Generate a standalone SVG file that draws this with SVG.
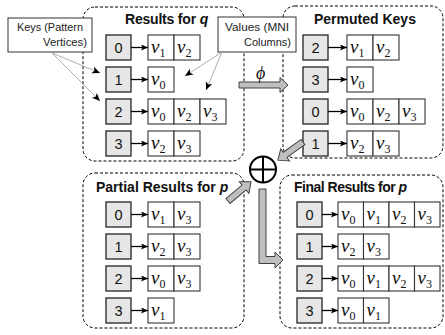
<svg xmlns="http://www.w3.org/2000/svg" width="445" height="335" viewBox="0 0 445 335">
<defs>
<marker id="ah" markerUnits="userSpaceOnUse" markerWidth="8" markerHeight="8" refX="7" refY="3" orient="auto"><path d="M0,0 L7,3 L0,6 L1.5,3 z" fill="#000"/></marker>
<marker id="ph" markerUnits="userSpaceOnUse" markerWidth="10" markerHeight="10" refX="8" refY="3.5" orient="auto"><path d="M0,0 L8,3.5 L0,7 L2,3.5 z" fill="#000"/></marker>
</defs>
<style>
.panel{fill:#fff;stroke:#000;stroke-width:1;stroke-dasharray:3,2}
.key{fill:#e6e6e6;stroke:#333;stroke-width:1.4}
.cell{fill:#fff;stroke:#333;stroke-width:1.1}
.kt{font-family:"Liberation Sans",Arial,sans-serif;font-size:14.5px;text-anchor:middle;fill:#111}
.vt{font-family:"Liberation Serif","DejaVu Serif",serif;font-style:italic;font-size:19px;fill:#111}
.sub{font-style:normal;font-size:12px}
.title{font-family:"Liberation Sans",Arial,sans-serif;font-weight:bold;font-size:14px;fill:#111}
.call{fill:#fff;stroke:#333;stroke-width:1}
.ct{font-family:"Liberation Sans",Arial,sans-serif;font-size:11px;fill:#222}
.kv{stroke:#000;stroke-width:1.3;fill:none;marker-end:url(#ah)}
.ptr{stroke:#999;stroke-width:0.8;fill:none;marker-end:url(#ph)}
.blk{fill:#bfbfbf;stroke:#404040;stroke-width:1}
</style>

<g id="panel-results-q">
<rect class="panel" x="83" y="7" width="161" height="154" rx="12"/>
<text class="title" x="125" y="24" letter-spacing="-0.2">Results for <tspan font-style="italic">q</tspan></text>
<rect class="key" x="106" y="35" width="25" height="25"/><text class="kt" x="118.5" y="53">0</text>
<rect class="cell" x="148" y="35" width="26" height="25"/><text class="vt" x="151" y="53">v<tspan class="sub" dy="4">1</tspan></text>
<rect class="cell" x="174" y="35" width="26" height="25"/><text class="vt" x="177" y="53">v<tspan class="sub" dy="4">2</tspan></text>
<rect class="key" x="106" y="67" width="25" height="25"/><text class="kt" x="118.5" y="85">1</text>
<rect class="cell" x="148" y="67" width="26" height="25"/><text class="vt" x="151" y="85">v<tspan class="sub" dy="4">0</tspan></text>
<rect class="key" x="106" y="99" width="25" height="25"/><text class="kt" x="118.5" y="117">2</text>
<rect class="cell" x="148" y="99" width="26" height="25"/><text class="vt" x="151" y="117">v<tspan class="sub" dy="4">0</tspan></text>
<rect class="cell" x="174" y="99" width="26" height="25"/><text class="vt" x="177" y="117">v<tspan class="sub" dy="4">2</tspan></text>
<rect class="cell" x="200" y="99" width="26" height="25"/><text class="vt" x="203" y="117">v<tspan class="sub" dy="4">3</tspan></text>
<rect class="key" x="106" y="131" width="25" height="25"/><text class="kt" x="118.5" y="149">3</text>
<rect class="cell" x="148" y="131" width="26" height="25"/><text class="vt" x="151" y="149">v<tspan class="sub" dy="4">2</tspan></text>
<rect class="cell" x="174" y="131" width="26" height="25"/><text class="vt" x="177" y="149">v<tspan class="sub" dy="4">3</tspan></text>
</g>

<g id="panel-permuted">
<rect class="panel" x="283" y="6" width="160" height="152" rx="12"/>
<text class="title" x="314" y="24">Permuted Keys</text>
<rect class="key" x="303" y="35" width="25" height="25"/><text class="kt" x="315.5" y="53">2</text>
<rect class="cell" x="347" y="35" width="26" height="25"/><text class="vt" x="350" y="53">v<tspan class="sub" dy="4">1</tspan></text>
<rect class="cell" x="373" y="35" width="26" height="25"/><text class="vt" x="376" y="53">v<tspan class="sub" dy="4">2</tspan></text>
<rect class="key" x="303" y="67" width="25" height="25"/><text class="kt" x="315.5" y="85">3</text>
<rect class="cell" x="347" y="67" width="26" height="25"/><text class="vt" x="350" y="85">v<tspan class="sub" dy="4">0</tspan></text>
<rect class="key" x="303" y="99" width="25" height="25"/><text class="kt" x="315.5" y="117">0</text>
<rect class="cell" x="347" y="99" width="26" height="25"/><text class="vt" x="350" y="117">v<tspan class="sub" dy="4">0</tspan></text>
<rect class="cell" x="373" y="99" width="26" height="25"/><text class="vt" x="376" y="117">v<tspan class="sub" dy="4">2</tspan></text>
<rect class="cell" x="399" y="99" width="26" height="25"/><text class="vt" x="402" y="117">v<tspan class="sub" dy="4">3</tspan></text>
<rect class="key" x="303" y="131" width="25" height="25"/><text class="kt" x="315.5" y="149">1</text>
<rect class="cell" x="347" y="131" width="26" height="25"/><text class="vt" x="350" y="149">v<tspan class="sub" dy="4">2</tspan></text>
<rect class="cell" x="373" y="131" width="26" height="25"/><text class="vt" x="376" y="149">v<tspan class="sub" dy="4">3</tspan></text>
</g>

<g id="panel-partial">
<rect class="panel" x="83" y="173" width="161" height="155" rx="12"/>
<text class="title" x="96" y="192">Partial Results for <tspan font-style="italic">p</tspan></text>
<rect class="key" x="106" y="202" width="25" height="25"/><text class="kt" x="118.5" y="220">0</text>
<rect class="cell" x="148" y="202" width="26" height="25"/><text class="vt" x="151" y="220">v<tspan class="sub" dy="4">1</tspan></text>
<rect class="cell" x="174" y="202" width="26" height="25"/><text class="vt" x="177" y="220">v<tspan class="sub" dy="4">3</tspan></text>
<rect class="key" x="106" y="234" width="25" height="25"/><text class="kt" x="118.5" y="252">1</text>
<rect class="cell" x="148" y="234" width="26" height="25"/><text class="vt" x="151" y="252">v<tspan class="sub" dy="4">2</tspan></text>
<rect class="cell" x="174" y="234" width="26" height="25"/><text class="vt" x="177" y="252">v<tspan class="sub" dy="4">3</tspan></text>
<rect class="key" x="106" y="266" width="25" height="25"/><text class="kt" x="118.5" y="284">2</text>
<rect class="cell" x="148" y="266" width="26" height="25"/><text class="vt" x="151" y="284">v<tspan class="sub" dy="4">0</tspan></text>
<rect class="cell" x="174" y="266" width="26" height="25"/><text class="vt" x="177" y="284">v<tspan class="sub" dy="4">3</tspan></text>
<rect class="key" x="106" y="298" width="25" height="25"/><text class="kt" x="118.5" y="316">3</text>
<rect class="cell" x="148" y="298" width="26" height="25"/><text class="vt" x="151" y="316">v<tspan class="sub" dy="4">1</tspan></text>
</g>

<g id="panel-final">
<rect class="panel" x="280" y="175" width="163" height="153" rx="12"/>
<text class="title" x="294" y="192" letter-spacing="-0.5">Final Results for <tspan font-style="italic">p</tspan></text>
<rect class="key" x="297" y="202" width="25" height="25"/><text class="kt" x="309.5" y="220">0</text>
<rect class="cell" x="338" y="202" width="25.5" height="25"/><text class="vt" x="341" y="220">v<tspan class="sub" dy="4">0</tspan></text>
<rect class="cell" x="363.5" y="202" width="25.5" height="25"/><text class="vt" x="366.5" y="220">v<tspan class="sub" dy="4">1</tspan></text>
<rect class="cell" x="389" y="202" width="25.5" height="25"/><text class="vt" x="392" y="220">v<tspan class="sub" dy="4">2</tspan></text>
<rect class="cell" x="414.5" y="202" width="25.5" height="25"/><text class="vt" x="417.5" y="220">v<tspan class="sub" dy="4">3</tspan></text>
<rect class="key" x="297" y="234" width="25" height="25"/><text class="kt" x="309.5" y="252">1</text>
<rect class="cell" x="338" y="234" width="25.5" height="25"/><text class="vt" x="341" y="252">v<tspan class="sub" dy="4">2</tspan></text>
<rect class="cell" x="363.5" y="234" width="25.5" height="25"/><text class="vt" x="366.5" y="252">v<tspan class="sub" dy="4">3</tspan></text>
<rect class="key" x="297" y="266" width="25" height="25"/><text class="kt" x="309.5" y="284">2</text>
<rect class="cell" x="338" y="266" width="25.5" height="25"/><text class="vt" x="341" y="284">v<tspan class="sub" dy="4">0</tspan></text>
<rect class="cell" x="363.5" y="266" width="25.5" height="25"/><text class="vt" x="366.5" y="284">v<tspan class="sub" dy="4">1</tspan></text>
<rect class="cell" x="389" y="266" width="25.5" height="25"/><text class="vt" x="392" y="284">v<tspan class="sub" dy="4">2</tspan></text>
<rect class="cell" x="414.5" y="266" width="25.5" height="25"/><text class="vt" x="417.5" y="284">v<tspan class="sub" dy="4">3</tspan></text>
<rect class="key" x="297" y="298" width="25" height="25"/><text class="kt" x="309.5" y="316">3</text>
<rect class="cell" x="338" y="298" width="25.5" height="25"/><text class="vt" x="341" y="316">v<tspan class="sub" dy="4">0</tspan></text>
<rect class="cell" x="363.5" y="298" width="25.5" height="25"/><text class="vt" x="366.5" y="316">v<tspan class="sub" dy="4">1</tspan></text>
</g>

<g id="callout-keys">
<rect class="call" x="8" y="18" width="84" height="34"/>
<text class="ct" x="17" y="31" textLength="66" lengthAdjust="spacingAndGlyphs">Keys (Pattern</text>
<text class="ct" x="43" y="46" textLength="44" lengthAdjust="spacingAndGlyphs">Vertices)</text>
</g>

<g id="callout-values">
<rect class="call" x="218" y="17" width="78" height="35"/>
<text class="ct" x="225" y="31" textLength="64" lengthAdjust="spacingAndGlyphs">Values (MNI</text>
<text class="ct" x="244" y="46" textLength="47" lengthAdjust="spacingAndGlyphs">Columns)</text>
</g>

<g id="oplus">
<circle cx="263" cy="169.5" r="13" fill="#fff" stroke="#000" stroke-width="2"/>
<line x1="250" y1="169.5" x2="276" y2="169.5" stroke="#000" stroke-width="2"/>
<line x1="263" y1="156.5" x2="263" y2="182.5" stroke="#000" stroke-width="2"/>
</g>

<g id="connectors">
<line class="kv" x1="131" y1="47.5" x2="148" y2="47.5"/>
<line class="kv" x1="131" y1="79.5" x2="148" y2="79.5"/>
<line class="kv" x1="131" y1="111.5" x2="148" y2="111.5"/>
<line class="kv" x1="131" y1="143.5" x2="148" y2="143.5"/>
<line class="kv" x1="328" y1="47.5" x2="347" y2="47.5"/>
<line class="kv" x1="328" y1="79.5" x2="347" y2="79.5"/>
<line class="kv" x1="328" y1="111.5" x2="347" y2="111.5"/>
<line class="kv" x1="328" y1="143.5" x2="347" y2="143.5"/>
<line class="kv" x1="131" y1="214.5" x2="148" y2="214.5"/>
<line class="kv" x1="131" y1="246.5" x2="148" y2="246.5"/>
<line class="kv" x1="131" y1="278.5" x2="148" y2="278.5"/>
<line class="kv" x1="131" y1="310.5" x2="148" y2="310.5"/>
<line class="kv" x1="322" y1="214.5" x2="338" y2="214.5"/>
<line class="kv" x1="322" y1="246.5" x2="338" y2="246.5"/>
<line class="kv" x1="322" y1="278.5" x2="338" y2="278.5"/>
<line class="kv" x1="322" y1="310.5" x2="338" y2="310.5"/>
<line class="ptr" x1="52" y1="53" x2="100" y2="73"/>
<line class="ptr" x1="52" y1="53" x2="100" y2="101"/>
<line class="ptr" x1="222" y1="52" x2="185" y2="76"/>
<line class="ptr" x1="222" y1="52" x2="206" y2="90"/>
<polygon class="blk" points="239,82 280,82 280,77.5 288,85 280,92.5 280,88 239,88"/>
<text x="256" y="79" font-family="Liberation Serif,serif" font-style="italic" font-size="18" fill="#111">ϕ</text>
<polygon class="blk" transform="translate(303,142) rotate(144.2)" points="0,-3.2 22,-3.2 22,-7.5 31,0 22,7.5 22,3.2 0,3.2"/>
<polygon class="blk" transform="translate(228,201) rotate(-40)" points="0,-3.2 21,-3.2 21,-7.5 30,0 21,7.5 21,3.2 0,3.2"/>
<polygon class="blk" points="259,189 266,189 266,256.5 275,256.5 275,252 283,260 275,268 275,263.5 259,263.5"/>
</g>
</svg>
